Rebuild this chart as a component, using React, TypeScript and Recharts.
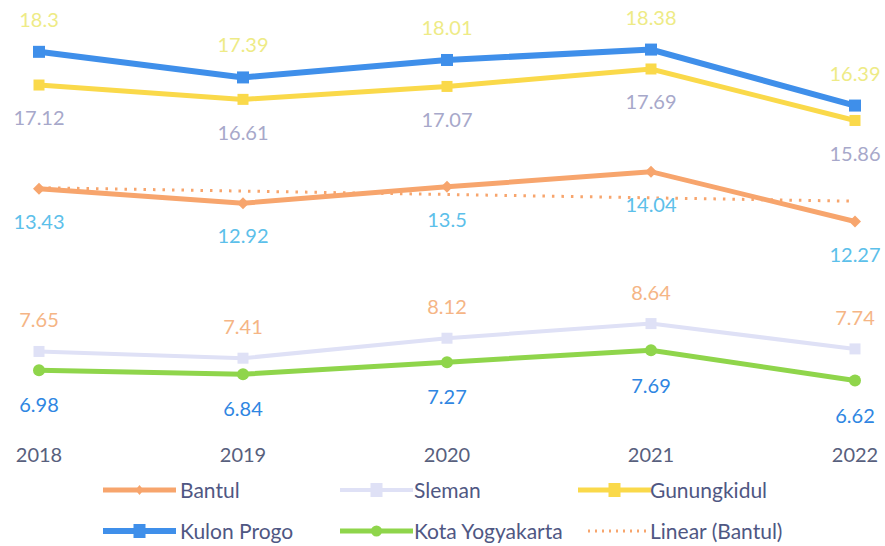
import React from 'react';
import { LineChart, Line, XAxis, YAxis, LabelList, Legend } from 'recharts';

const years = ['2018', '2019', '2020', '2021', '2022'];
const bantul = [13.43, 12.92, 13.5, 14.04, 12.27];
const sleman = [7.65, 7.41, 8.12, 8.64, 7.74];
const gunungkidul = [17.12, 16.61, 17.07, 17.69, 15.86];
const kulonProgo = [18.3, 17.39, 18.01, 18.38, 16.39];
const kotaYogyakarta = [6.98, 6.84, 7.27, 7.69, 6.62];
const bantulTrend: (number | null)[] = [13.47, null, null, null, 12.99];

const data = years.map((y, i) => ({
  year: y,
  bantul: bantul[i],
  sleman: sleman[i],
  gunungkidul: gunungkidul[i],
  kulonProgo: kulonProgo[i],
  kotaYogyakarta: kotaYogyakarta[i],
  trend: bantulTrend[i],
}));

const FONT = 'Lato, "Open Sans", sans-serif';

const C = {
  bantul: '#f7a56d',
  sleman: '#dfe1f6',
  gunungkidul: '#fad94a',
  kulonProgo: '#3f8fea',
  kota: '#8fd54b',
};
const L = {
  kulonProgo: '#eeeb86',
  gunungkidul: '#a7a8ca',
  bantul: '#5cc0ea',
  sleman: '#f5b585',
  kota: '#2f86e2',
};

const squareDot = (size: number, color: string) => (props: any) => {
  const { cx, cy, index } = props;
  if (cx == null || cy == null) return <g key={index} />;
  return <rect key={index} x={cx - size / 2} y={cy - size / 2} width={size} height={size} fill={color} />;
};
const circleDot = (r: number, color: string) => (props: any) => {
  const { cx, cy, index } = props;
  if (cx == null || cy == null) return <g key={index} />;
  return <circle key={index} cx={cx} cy={cy} r={r} fill={color} />;
};
const diamondDot = (s: number, color: string) => (props: any) => {
  const { cx, cy, index } = props;
  if (cx == null || cy == null) return <g key={index} />;
  return (
    <polygon
      key={index}
      points={`${cx},${cy - s} ${cx + s},${cy} ${cx},${cy + s} ${cx - s},${cy}`}
      fill={color}
    />
  );
};

type LegendItem = {
  name: string;
  color: string;
  marker: 'diamond' | 'square' | 'circle' | 'none';
  width: number;
  dashed?: boolean;
  col: number;
  row: number;
};

const legendItems: LegendItem[] = [
  { name: 'Bantul', color: C.bantul, marker: 'diamond', width: 5, col: 0, row: 0 },
  { name: 'Sleman', color: C.sleman, marker: 'square', width: 4, col: 1, row: 0 },
  { name: 'Gunungkidul', color: C.gunungkidul, marker: 'square', width: 5, col: 2, row: 0 },
  { name: 'Kulon Progo', color: C.kulonProgo, marker: 'square', width: 6, col: 0, row: 1 },
  { name: 'Kota Yogyakarta', color: C.kota, marker: 'circle', width: 5, col: 1, row: 1 },
  { name: 'Linear (Bantul)', color: C.bantul, marker: 'none', width: 3, dashed: true, col: 2, row: 1 },
];

const colIcon = [103, 340, 578];
const colText = [180, 414, 650];
const rowY = [18, 59];

const CustomLegend = () => (
  <svg width={885} height={74} style={{ display: 'block' }}>
    {legendItems.map((it) => {
      const y = rowY[it.row];
      const x0 = it.dashed ? colIcon[it.col] + 10 : colIcon[it.col];
      const x1 = colIcon[it.col] + 73;
      const mx = (colIcon[it.col] + x1) / 2;
      return (
        <g key={it.name}>
          <line
            x1={x0}
            y1={y}
            x2={x1}
            y2={y}
            stroke={it.color}
            strokeWidth={it.width}
            strokeDasharray={it.dashed ? '2 5' : undefined}
          />
          {it.marker === 'square' && (
            <rect x={mx - 6} y={y - 7} width={12} height={14} fill={it.color} />
          )}
          {it.marker === 'circle' && <circle cx={mx} cy={y} r={5.5} fill={it.color} />}
          {it.marker === 'diamond' && (
            <polygon points={`${mx},${y - 5} ${mx + 4},${y} ${mx},${y + 5} ${mx - 4},${y}`} fill={it.color} />
          )}
          <text
            x={colText[it.col]}
            y={y}
            dy="0.36em"
            fontSize={21}
            fontFamily={FONT}
            fill="#4f5783"
          >
            {it.name}
          </text>
        </g>
      );
    })}
  </svg>
);

export default function App() {
  return (
    <div style={{ position: 'absolute', left: 0, top: 0, width: 885, height: 546, background: '#fff' }}>
      <LineChart
        width={885}
        height={546}
        data={data}
        margin={{ top: 4, right: 30, left: 39, bottom: 6 }}
      >
        <XAxis
          dataKey="year"
          axisLine={false}
          tickLine={false}
          tickSize={0}
          tickMargin={22}
          height={40}
          interval={0}
          tick={{ fontSize: 20, fontFamily: FONT, fill: '#58607d' }}
        />
        <YAxis hide domain={[5, 20]} />
        <Legend
          verticalAlign="bottom"
          content={() => <CustomLegend />}
          wrapperStyle={{ left: 0, top: 472, width: 885, height: 74 }}
        />
        <Line
          dataKey="trend"
          stroke={C.bantul}
          strokeWidth={3}
          strokeDasharray="2.5 7"
          dot={false}
          connectNulls
          isAnimationActive={false}
        />
        <Line
          dataKey="kotaYogyakarta"
          stroke={C.kota}
          strokeWidth={5}
          dot={circleDot(6, C.kota)}
          isAnimationActive={false}
        >
          <LabelList dataKey="kotaYogyakarta" position="bottom" offset={28} fill={L.kota} fontSize={20} fontFamily={FONT} />
        </Line>
        <Line
          dataKey="sleman"
          stroke={C.sleman}
          strokeWidth={4}
          dot={squareDot(11, C.sleman)}
          isAnimationActive={false}
        >
          <LabelList dataKey="sleman" position="top" offset={24} fill={L.sleman} fontSize={20} fontFamily={FONT} />
        </Line>
        <Line
          dataKey="bantul"
          stroke={C.bantul}
          strokeWidth={5}
          dot={diamondDot(6, C.bantul)}
          isAnimationActive={false}
        >
          <LabelList dataKey="bantul" position="bottom" offset={26} fill={L.bantul} fontSize={20} fontFamily={FONT} />
        </Line>
        <Line
          dataKey="gunungkidul"
          stroke={C.gunungkidul}
          strokeWidth={5}
          dot={squareDot(11, C.gunungkidul)}
          isAnimationActive={false}
        >
          <LabelList dataKey="gunungkidul" position="bottom" offset={26} fill={L.gunungkidul} fontSize={20} fontFamily={FONT} />
        </Line>
        <Line
          dataKey="kulonProgo"
          stroke={C.kulonProgo}
          strokeWidth={6}
          dot={squareDot(12, C.kulonProgo)}
          isAnimationActive={false}
        >
          <LabelList dataKey="kulonProgo" position="top" offset={25} fill={L.kulonProgo} fontSize={20} fontFamily={FONT} />
        </Line>
      </LineChart>
    </div>
  );
}
